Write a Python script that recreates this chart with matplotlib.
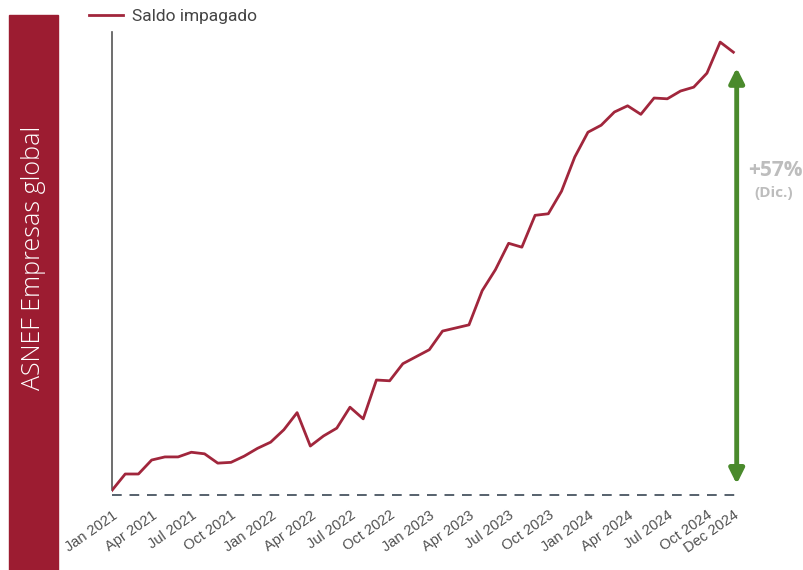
import matplotlib.pyplot as plt
from matplotlib.patches import Rectangle, FancyArrowPatch

# Saldo impagado, indice (ene 2021 ~ 100), lectura mensual ene 2021 - dic 2024
months = ['Jan 2021', 'Feb 2021', 'Mar 2021', 'Apr 2021', 'May 2021', 'Jun 2021',
          'Jul 2021', 'Aug 2021', 'Sep 2021', 'Oct 2021', 'Nov 2021', 'Dec 2021',
          'Jan 2022', 'Feb 2022', 'Mar 2022', 'Apr 2022', 'May 2022', 'Jun 2022',
          'Jul 2022', 'Aug 2022', 'Sep 2022', 'Oct 2022', 'Nov 2022', 'Dec 2022',
          'Jan 2023', 'Feb 2023', 'Mar 2023', 'Apr 2023', 'May 2023', 'Jun 2023',
          'Jul 2023', 'Aug 2023', 'Sep 2023', 'Oct 2023', 'Nov 2023', 'Dec 2023',
          'Jan 2024', 'Feb 2024', 'Mar 2024', 'Apr 2024', 'May 2024', 'Jun 2024',
          'Jul 2024', 'Aug 2024', 'Sep 2024', 'Oct 2024', 'Nov 2024', 'Dec 2024']
saldo = [100.6, 102.7, 102.7, 104.5, 104.9, 104.9, 105.5, 105.3, 104.1, 104.2, 105.0, 106.0,
         106.8, 108.4, 110.6, 106.3, 107.6, 108.6, 111.3, 109.8, 114.8, 114.7, 116.9, 117.8,
         118.7, 121.1, 121.5, 121.9, 126.3, 129.0, 132.4, 131.9, 136.0, 136.2, 139.1, 143.5,
         146.7, 147.6, 149.3, 150.1, 149.0, 151.1, 151.0, 152.0, 152.5, 154.3, 158.3, 157.0]
base = 100.0
tick_labels = ['Jan 2021', 'Apr 2021', 'Jul 2021', 'Oct 2021', 'Jan 2022', 'Apr 2022',
               'Jul 2022', 'Oct 2022', 'Jan 2023', 'Apr 2023', 'Jul 2023', 'Oct 2023',
               'Jan 2024', 'Apr 2024', 'Jul 2024', 'Oct 2024', 'Dec 2024']
arrow_from, arrow_to = 101.4, 155.0
label_pct = '+57%'
label_sub = '(Dic.)'

W, H = 804, 570
fig = plt.figure(figsize=(W / 100, H / 100), dpi=100)
ax = fig.add_axes([112 / W, (H - 497) / H, (740 - 112) / W, (497 - 32) / H])

x = list(range(len(months)))
ax.plot(x, saldo, color='#a1263c', lw=2, label='Saldo impagado', zorder=3)
ax.plot([0, len(months) - 1 + 0.2], [base, base], color='#56616c', lw=1.4,
        ls=(0, (5, 4)), zorder=2)

ax.set_xlim(0, 47.5)
ax.set_ylim(99.74, 159.6)

for s in ['top', 'right', 'bottom']:
    ax.spines[s].set_visible(False)
ax.spines['left'].set_color('#555555')
ax.spines['left'].set_linewidth(1.2)
ax.spines['left'].set_bounds(saldo[0], 159.6)
ax.set_yticks([])

tick_pos = [months.index(t) for t in tick_labels]
ax.set_xticks(tick_pos)
ax.set_xticklabels(tick_labels, rotation=35, ha='right', rotation_mode='anchor',
                   fontsize=10.5, color='#505050', family='Liberation Sans')
ax.tick_params(axis='x', length=0, pad=8)

# flecha verde
arr = FancyArrowPatch((47.25, arrow_from), (47.25, arrow_to), arrowstyle='<|-|>',
                      mutation_scale=22, color='#4a8a2c', lw=3.5, clip_on=False,
                      shrinkA=0, shrinkB=0, zorder=4)
ax.add_patch(arr)
fig.text(775 / W, 1 - 170 / H, label_pct, ha='center', va='center', fontsize=15,
         fontweight='bold', color='#bdbdbd', family='Open Sans')
fig.text(774 / W, 1 - 193 / H, label_sub, ha='center', va='center', fontsize=11,
         fontweight='bold', color='#bdbdbd', family='Open Sans')

# barra lateral
fig.patches.append(Rectangle((9 / W, 0), 49 / W, (H - 15) / H, transform=fig.transFigure,
                             color='#9c1c31', zorder=0))
fig.text(34 / W, 1 - 258 / H, 'ASNEF Empresas global', rotation=90, ha='center',
         va='center', fontsize=18, fontweight='light', color='white', family='Open Sans')

ax.legend(loc='upper left', bbox_to_anchor=(73 / W, 1 + 7 / H),
          bbox_transform=fig.transFigure, frameon=False, handlelength=2.0,
          handletextpad=0.5, prop={'family': 'Roboto', 'size': 12.5}, labelcolor='#444444')

fig.savefig('out.png', dpi=100)
